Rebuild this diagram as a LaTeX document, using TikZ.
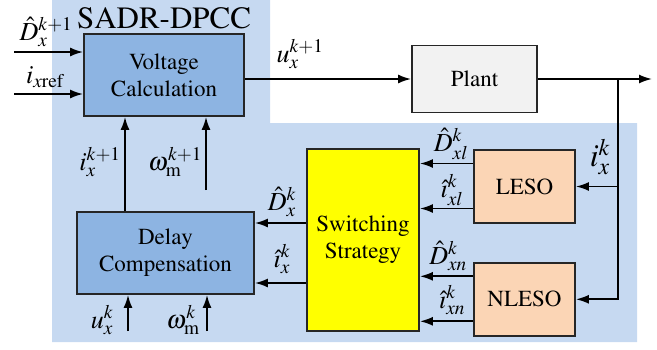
\documentclass[tikz,border=0pt]{standalone}
\usepackage[T1]{fontenc}
\usepackage{mathptmx}
\usepackage{tikz}
\usetikzlibrary{positioning,arrows.meta}
\definecolor{bgclr}{RGB}{198,217,241}
\definecolor{blockclr}{RGB}{141,180,226}
\definecolor{plantclr}{RGB}{242,242,242}
\definecolor{esoclr}{RGB}{251,213,181}
\definecolor{swclr}{RGB}{255,255,0}
\tikzset{
  blk/.style={rectangle,draw=black!85,line width=1.8pt,align=center,
              font=\fontsize{23}{27}\selectfont,inner sep=2pt},
  ctrl/.style={blk,fill=blockclr},
  eso/.style={blk,fill=esoclr,minimum width=101pt,minimum height=73pt},
  sig/.style={-{Latex[length=13pt,width=9pt]},line width=1.8pt},
  lbl/.style={font=\fontsize{26}{28}\selectfont,inner sep=0pt},
}

\begin{document}
\begin{tikzpicture}[x=1pt,y=-1pt]
\useasboundingbox (0,0) rectangle (657,349);
\fill[bgclr] (52,0) -- (270,0) -- (270,123) -- (637,123) -- (637,342) -- (52,342) -- cycle;
\node[font=\fontsize{31}{33}\selectfont,inner sep=0pt] (title) at (164,18) {SADR-DPCC};
\node[ctrl,minimum width=160pt,minimum height=82pt] (volt)  at (164,75)    {Voltage\\Calculation};
\node[blk,fill=plantclr,minimum width=125pt,minimum height=67pt] (plant) at (474.5,79) {Plant};
\node[ctrl,minimum width=177pt,minimum height=82pt] (delay) at (165.5,253) {Delay\\Compensation};
\node[blk,fill=swclr,minimum width=112pt,minimum height=182pt] (sw) at (363,240) {Switching\\Strategy};
\node[eso] (leso) at (524.5,186.5) {LESO};
\node[eso,below=38pt of leso] (nleso) {NLESO};
% free ends
\coordinate (din)  at (14,52);
\coordinate (iref) at (14,94);
\coordinate (out)  at (652,79);
\coordinate (br)   at (618,79);
\coordinate (wm1)  at (206,190);
\coordinate (uk)   at (128,331);
\coordinate (wk)   at (207,331);
% connectors
\draw[sig] (din)  -- (din -| volt.west);
\draw[sig] (iref) -- (iref -| volt.west);
\draw[sig] (volt.east |- plant.west) -- (plant.west);
\draw[sig] (plant.east) -- (out);
\draw[sig] (br) |- (nleso.east);
\draw[sig] (br |- leso.east) -- (leso.east);
\foreach \s in {leso,nleso}{
  \draw[sig] ([yshift=23pt]\s.west)  -- ([yshift=23pt]\s.west -| sw.east);
  \draw[sig] ([yshift=-22pt]\s.west) -- ([yshift=-22pt]\s.west -| sw.east);
}
\draw[sig] ([yshift=30pt]delay.east -| sw.west)  -- ([yshift=30pt]delay.east);
\draw[sig] ([yshift=-30pt]delay.east -| sw.west) -- ([yshift=-30pt]delay.east);
\draw[sig] ([xshift=-40.5pt]delay.north) -- ([xshift=-40.5pt]delay.north |- volt.south);
\draw[sig] (wm1) -- (wm1 |- volt.south);
\draw[sig] (uk)  -- (uk |- delay.south);
\draw[sig] (wk)  -- (wk |- delay.south);
% labels
\node[lbl] (ldin)  at (46,32)    {$\hat{D}_x^{k+1}$};
\node[lbl] (liref) at (45,77)    {$i_{x\mathrm{ref}}$};
\node[lbl] (lu1)   at (300,54)   {$u_x^{k+1}$};
\node[lbl] (li1)   at (100,162)  {$i_x^{k+1}$};
\node[lbl] (lwm1)  at (175,162)  {$\omega_{\mathrm{m}}^{k+1}$};
\node[lbl] (lD)    at (282,202)  {$\hat{D}_x^k$};
\node[lbl] (li)    at (282,259)  {$\hat{\imath}_x^k$};
\node[lbl] (luk)   at (102,320)  {$u_x^k$};
\node[lbl] (lwk)   at (183,320)  {$\omega_{\mathrm{m}}^k$};
\node[lbl] (lDl)   at (451,144)  {$\hat{D}_{xl}^k$};
\node[lbl] (lil)   at (452,190)  {$\hat{\imath}_{xl}^k$};
\node[lbl] (lDn)   at (448,256)  {$\hat{D}_{xn}^k$};
\node[lbl] (lin)   at (452,300)  {$\hat{\imath}_{xn}^k$};
\node[lbl,font=\fontsize{32}{34}\selectfont] (lix) at (600,157) {$i_x^k$};
\end{tikzpicture}
\end{document}
